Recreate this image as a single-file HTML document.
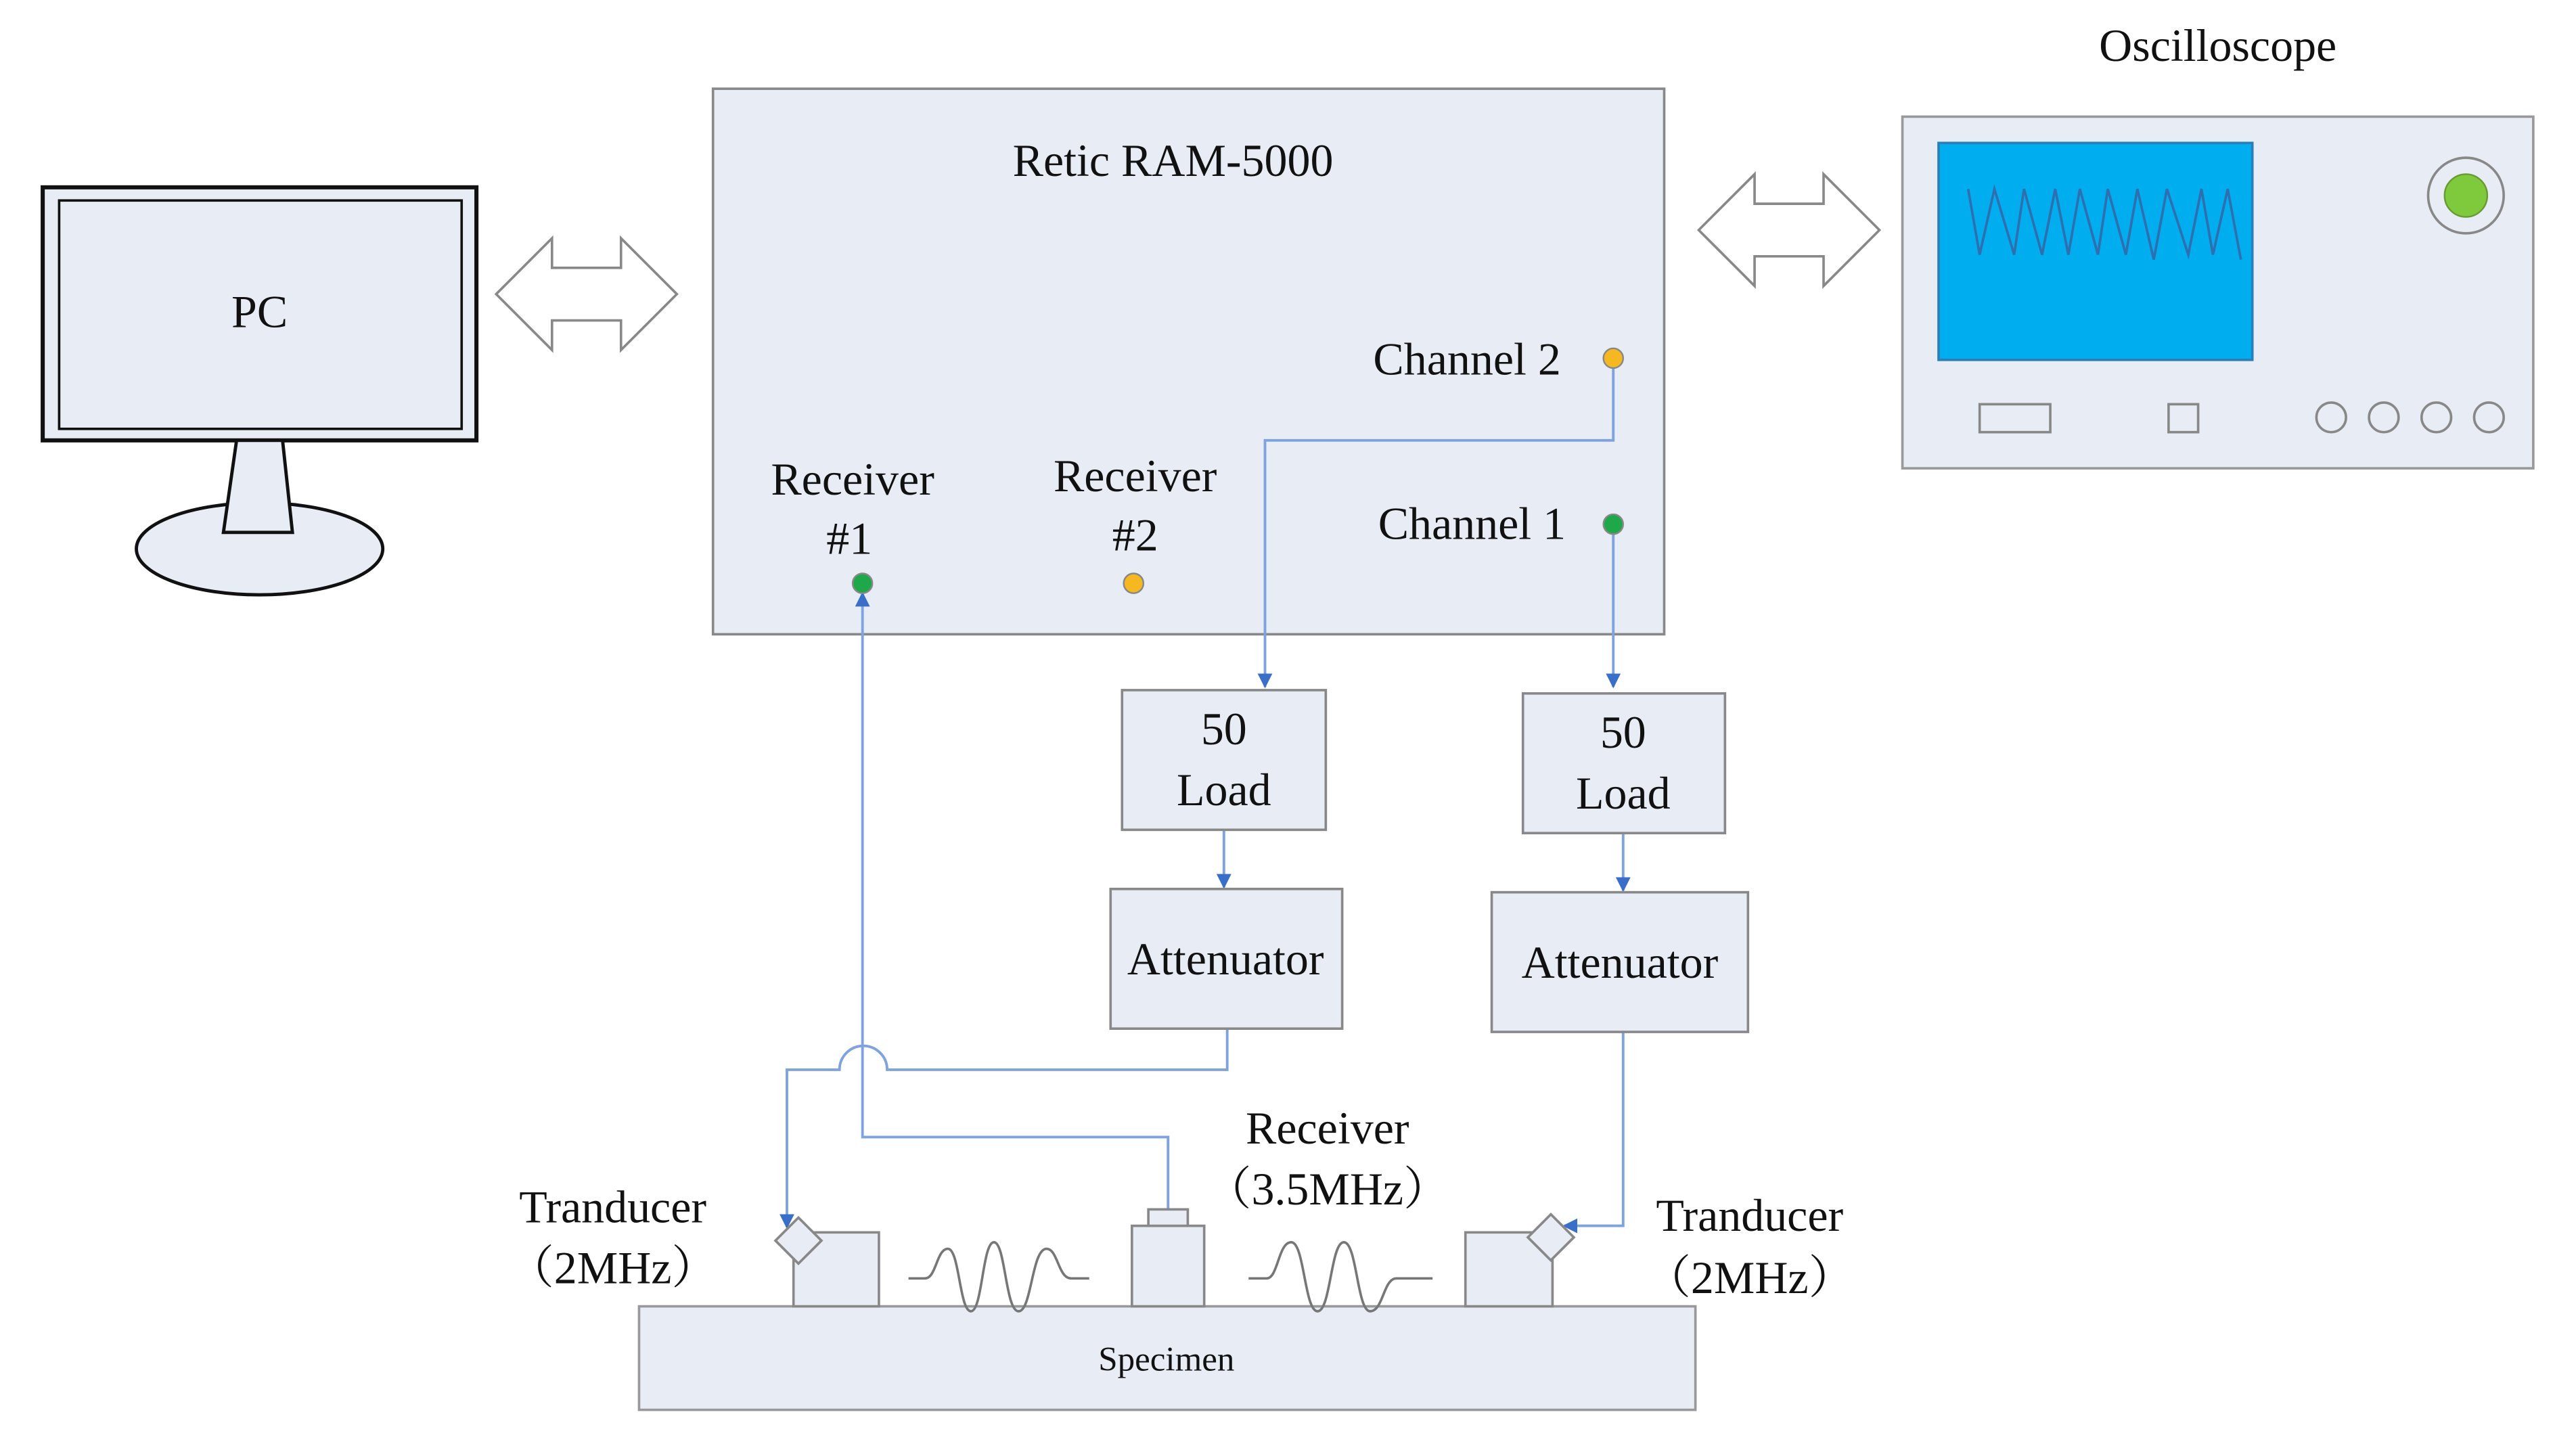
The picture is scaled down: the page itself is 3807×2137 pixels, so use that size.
<!DOCTYPE html>
<html><head><meta charset="utf-8"><style>
html,body{margin:0;padding:0;background:#fff}
svg{display:block}
text{font-family:"Liberation Serif","Noto Serif CJK SC",serif;fill:#111}
</style></head><body>
<svg width="3807" height="2137" viewBox="0 0 1568 880" preserveAspectRatio="none" xmlns="http://www.w3.org/2000/svg">
<defs>
<marker id="a" viewBox="0 0 10 10" refX="9" refY="5" markerWidth="9" markerHeight="9" orient="auto" markerUnits="userSpaceOnUse"><path d="M0,0 L10,5 L0,10 z" fill="#3a6fc9"/></marker>
</defs>
<!-- PC -->
<rect x="26" y="114" width="264" height="154" fill="#e8ecf5" stroke="#111" stroke-width="2.5"/>
<rect x="36" y="122" width="245" height="139" fill="#e8ecf5" stroke="#111" stroke-width="1.5"/>
<text x="158" y="199" font-size="28" text-anchor="middle">PC</text>
<ellipse cx="158" cy="334" rx="75" ry="28" fill="#e8ecf5" stroke="#111" stroke-width="2"/>
<path d="M144,268 L172,268 L178,324 L136,324 Z" fill="#e8ecf5" stroke="#111" stroke-width="2"/>
<!-- double arrows -->
<path d="M302,179 L336,145 L336,163 L378,163 L378,145 L412,179 L378,213 L378,195 L336,195 L336,213 Z" fill="#fff" stroke="#888" stroke-width="1.5"/>
<path d="M1034,140 L1068,106 L1068,124 L1110,124 L1110,106 L1144,140 L1110,174 L1110,156 L1068,156 L1068,174 Z" fill="#fff" stroke="#888" stroke-width="1.5"/>
<!-- Retic -->
<rect x="434" y="54" width="579" height="332" fill="#e8ecf5" stroke="#888" stroke-width="1.5"/>
<text x="714" y="107" font-size="28" text-anchor="middle">Retic RAM-5000</text>
<text x="893" y="228" font-size="28" text-anchor="middle">Channel 2</text>
<text x="896" y="328" font-size="28" text-anchor="middle">Channel 1</text>
<text x="519" y="301" font-size="28" text-anchor="middle">Receiver</text>
<text x="517" y="337" font-size="28" text-anchor="middle">#1</text>
<text x="691" y="299" font-size="28" text-anchor="middle">Receiver</text>
<text x="691" y="335" font-size="28" text-anchor="middle">#2</text>
<!-- connectors -->
<g fill="none" stroke="#7fa3de" stroke-width="1.6">
<path d="M982,218 L982,268 L770,268 L770,418" marker-end="url(#a)"/>
<path d="M982,319 L982,418" marker-end="url(#a)"/>
<path d="M745,505 L745,540" marker-end="url(#a)"/>
<path d="M988,507 L988,542" marker-end="url(#a)"/>
<path d="M747,626 L747,651 L540,651 A14,14 0 0 0 511,651 L479,651 L479,747" marker-end="url(#a)"/>
<path d="M711,736 L711,692 L525,692 L525,361" marker-end="url(#a)"/>
<path d="M988,628 L988,746 L952,746" marker-end="url(#a)"/>
</g>
<circle cx="982" cy="218" r="6" fill="#f5b820" stroke="#888" stroke-width="1"/>
<circle cx="982" cy="319" r="6" fill="#1fa84a" stroke="#888" stroke-width="1"/>
<circle cx="525" cy="355" r="6" fill="#1fa84a" stroke="#888" stroke-width="1"/>
<circle cx="690" cy="355" r="6" fill="#f5b820" stroke="#888" stroke-width="1"/>
<!-- loads / attenuators -->
<g fill="#e8ecf5" stroke="#888" stroke-width="1.5">
<rect x="683" y="420" width="124" height="85"/>
<rect x="927" y="422" width="123" height="85"/>
<rect x="676" y="541" width="141" height="85"/>
<rect x="908" y="543" width="156" height="85"/>
</g>
<text x="745" y="453" font-size="28" text-anchor="middle">50</text>
<text x="745" y="490" font-size="28" text-anchor="middle">Load</text>
<text x="988" y="455" font-size="28" text-anchor="middle">50</text>
<text x="988" y="492" font-size="28" text-anchor="middle">Load</text>
<text x="746" y="593" font-size="28" text-anchor="middle">Attenuator</text>
<text x="986" y="595" font-size="28" text-anchor="middle">Attenuator</text>
<!-- oscilloscope -->
<text x="1350" y="37" font-size="28" text-anchor="middle">Oscilloscope</text>
<rect x="1158" y="71" width="384" height="214" fill="#e8ecf5" stroke="#999" stroke-width="1.5"/>
<rect x="1180" y="87" width="191" height="132" fill="#00aeef" stroke="#2a7fb8" stroke-width="1.5"/>
<polyline points="1198,115 1205,155 1214,115 1226,155 1232,115 1243,155 1251,115 1259,155 1266,115 1277,155 1283,115 1294,155 1301,115 1311,158 1319,115 1332,155 1340,115 1347,155 1356,115 1364,158" fill="none" stroke="#2e6fb0" stroke-width="1.5"/>
<circle cx="1501" cy="119" r="23" fill="#e8ecf5" stroke="#888" stroke-width="1.5"/>
<circle cx="1501" cy="119" r="13" fill="#7fc93c" stroke="#6a9a35" stroke-width="1"/>
<g fill="none" stroke="#888" stroke-width="1.5">
<rect x="1205" y="246" width="43" height="17"/>
<rect x="1320" y="246" width="18" height="17"/>
<circle cx="1419" cy="254" r="9"/><circle cx="1451" cy="254" r="9"/><circle cx="1483" cy="254" r="9"/><circle cx="1515" cy="254" r="9"/>
</g>
<!-- specimen -->
<rect x="389" y="795" width="643" height="63" fill="#e8ecf5" stroke="#999" stroke-width="1.5"/>
<text x="710" y="834" font-size="21" text-anchor="middle">Specimen</text>
<g fill="#e8ecf5" stroke="#888" stroke-width="1.5">
<rect x="483" y="750" width="52" height="45"/>
<rect x="689" y="746" width="44" height="49"/>
<rect x="699" y="736" width="24" height="10"/>
<rect x="892" y="750" width="53" height="45"/>
<path d="M486,741 L500,755 L486,769 L472,755 Z"/>
<path d="M944,739 L958,753 L944,767 L930,753 Z"/>
</g>
<g fill="none" stroke="#777" stroke-width="1.5">
<path d="M553,778 L563,778 C570,778 570,760 577,760 C584,760 584,798 591,798 C598,798 598,756 605,756 C612,756 612,798 620,798 C628,798 628,760 637,760 C644,760 644,778 652,778 L663,778"/>
<path d="M760,778 L771,778 C778,778 778,756 786,756 C794,756 794,798 802,798 C810,798 810,756 818,756 C826,756 826,798 834,798 C842,798 842,778 850,778 L872,778"/>
</g>
<text x="373" y="744" font-size="28" text-anchor="middle">Tranducer</text>
<text x="373" y="781" font-size="28" text-anchor="middle">（2MHz）</text>
<text x="1065" y="749" font-size="28" text-anchor="middle">Tranducer</text>
<text x="1065" y="787" font-size="28" text-anchor="middle">（2MHz）</text>
<text x="808" y="696" font-size="28" text-anchor="middle">Receiver</text>
<text x="808" y="733" font-size="28" text-anchor="middle">（3.5MHz）</text>
</svg>
</body></html>
